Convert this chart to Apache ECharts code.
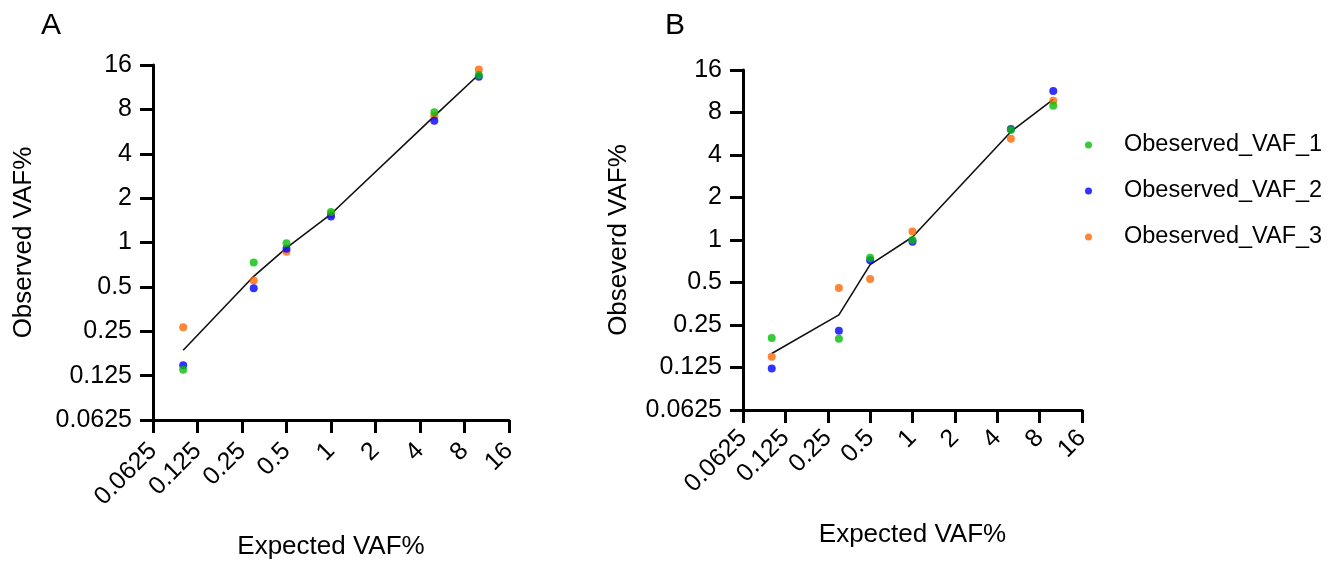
<!DOCTYPE html>
<html>
<head>
<meta charset="utf-8">
<script src="https://cdn.jsdelivr.net/npm/echarts@6/dist/echarts.min.js"></script>
<style>html,body{margin:0;padding:0;background:#fff}#c{width:1342px;height:563px}</style>
</head>
<body>
<div id="c"></div>
<script>
// ---- data ----
const expected = [0.1, 0.3, 0.5, 1, 5, 10];
const tickValues = [0.0625, 0.125, 0.25, 0.5, 1, 2, 4, 8, 16];
const seriesNames = ['Obeserved_VAF_1', 'Obeserved_VAF_2', 'Obeserved_VAF_3'];

// Panel A
const a_vaf1 = [0.137, 0.731, 0.99, 1.61, 7.64, 13.7];
const a_vaf2 = [0.147, 0.49, 0.908, 1.50, 6.71, 13.3];
const a_vaf3 = [0.266, 0.552, 0.865, 1.56, 7.2, 14.9];
const a_line = [0.186, 0.59, 0.92, 1.56, 7.2, 13.8];

// Panel B
const b_vaf1 = [0.202, 0.2, 0.75, 1.0, 6.01, 8.94];
const b_vaf2 = [0.123, 0.228, 0.72, 0.97, 6.11, 11.36];
const b_vaf3 = [0.149, 0.457, 0.53, 1.15, 5.22, 9.7];
const b_line = [0.157, 0.295, 0.67, 1.05, 5.85, 9.9];

const colors = { v1: '#06bd06', v2: '#0000ff', v3: '#ff6605' };
const FONT = 'Liberation Sans, Arial, sans-serif';

function pairs(ys) { return expected.map((x, i) => [x, ys[i]]); }
function fmt(v) { return String(+(+v).toPrecision(6)); }

function xAxisCfg(gridIndex, nameGap, margin) {
  return {
    gridIndex, type: 'log', logBase: 2, min: tickValues[0], max: tickValues[tickValues.length - 1],
    splitNumber: 8,
    axisLine: { show: true, lineStyle: { color: '#000', width: 3 } },
    axisTick: { show: true, length: 13, lineStyle: { color: '#000', width: 3 } },
    splitLine: { show: false },
    minorTick: { show: false },
    axisLabel: { rotate: 45, fontSize: 25, color: '#000', fontFamily: FONT, margin: margin, formatter: fmt, showMinLabel: true, showMaxLabel: true },
    name: 'Expected VAF%', nameLocation: 'middle', nameGap: nameGap,
    nameTextStyle: { fontSize: 26, color: '#000', fontFamily: FONT }
  };
}
function yAxisCfg(gridIndex, name, nameGap) {
  return {
    gridIndex, type: 'log', logBase: 2, min: tickValues[0], max: tickValues[tickValues.length - 1],
    splitNumber: 8,
    axisLine: { show: true, lineStyle: { color: '#000', width: 3 } },
    axisTick: { show: true, length: 13, lineStyle: { color: '#000', width: 3 } },
    splitLine: { show: false },
    minorTick: { show: false },
    axisLabel: { fontSize: 25, color: '#000', fontFamily: FONT, margin: 21, formatter: fmt, showMinLabel: true, showMaxLabel: true },
    name: name, nameLocation: 'middle', nameGap: nameGap, nameRotate: 90,
    nameTextStyle: { fontSize: 26, color: '#000', fontFamily: FONT }
  };
}
function scatter(name, data, color, idx) {
  return { name, type: 'scatter', xAxisIndex: idx, yAxisIndex: idx, data: pairs(data),
    symbol: 'circle', symbolSize: 8, itemStyle: { color }, z: 3 };
}
function line(data, idx) {
  return { name: 'mean', type: 'line', xAxisIndex: idx, yAxisIndex: idx, data: pairs(data),
    showSymbol: false, symbol: 'none', lineStyle: { color: '#111', width: 1.6 }, z: 2, silent: true };
}

const chart = echarts.init(document.getElementById('c'), null, { renderer: 'canvas' });
chart.setOption({
  animation: false,
  backgroundColor: '#fff',
  title: [
    { text: 'A', left: 41, top: 11, padding: 0, textStyle: { fontSize: 30, fontWeight: 'normal', color: '#000', fontFamily: FONT } },
    { text: 'B', left: 665, top: 11, padding: 0, textStyle: { fontSize: 30, fontWeight: 'normal', color: '#000', fontFamily: FONT } }
  ],
  grid: [
    { left: 153, top: 65, width: 356, height: 355, containLabel: false, outerBoundsMode: 'none' },
    { left: 743, top: 70, width: 339, height: 340, containLabel: false, outerBoundsMode: 'none' }
  ],
  xAxis: [xAxisCfg(0, 114, 27), xAxisCfg(1, 112, 24)],
  yAxis: [yAxisCfg(0, 'Observed VAF%', 116), yAxisCfg(1, 'Obseverd VAF%', 111)],
  legend: {
    orient: 'vertical', left: 1080, top: 128,
    data: seriesNames,
    icon: 'circle', itemWidth: 7, itemHeight: 7, itemGap: 22,
    textStyle: { fontSize: 23.5, color: '#000', fontFamily: FONT, lineHeight: 23.5, padding: [0, 0, 0, 27] },
    selectedMode: false
  },
  series: [
    line(a_line, 0),
    scatter(seriesNames[2], a_vaf3, colors.v3, 0),
    scatter(seriesNames[1], a_vaf2, colors.v2, 0),
    scatter(seriesNames[0], a_vaf1, colors.v1, 0),
    line(b_line, 1),
    scatter(seriesNames[2], b_vaf3, colors.v3, 1),
    scatter(seriesNames[1], b_vaf2, colors.v2, 1),
    scatter(seriesNames[0], b_vaf1, colors.v1, 1)
  ]
});
</script>
</body>
</html>
